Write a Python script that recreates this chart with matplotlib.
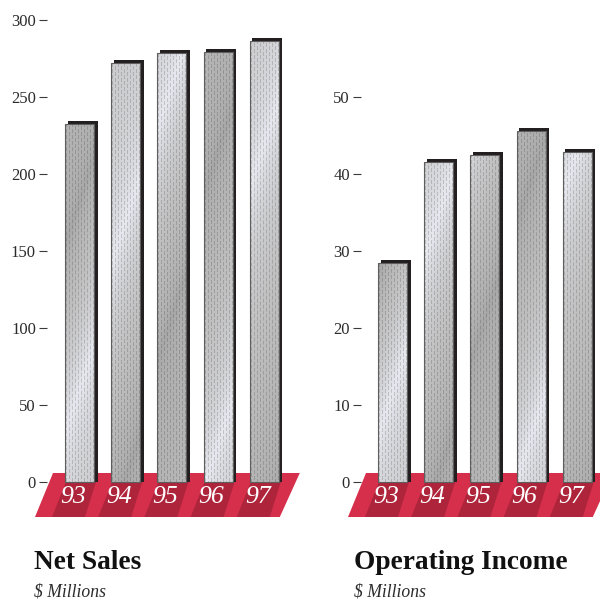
import numpy as np
import matplotlib
matplotlib.use('Agg')
import matplotlib.pyplot as plt

plt.rcParams['font.family'] = ['Liberation Serif', 'DejaVu Serif']

years = ['93', '94', '95', '96', '97']
net_sales = [232.5, 272, 278.5, 279, 286.5]
operating_income = [28.4, 41.5, 42.5, 45.6, 42.9]
sales_ticks = [0, 50, 100, 150, 200, 250, 300]
income_ticks = [0, 10, 20, 30, 40, 50]

W = 600.0
H = 602.0
BASE = 482.0    # pixel row of the zero line
STEP = 46.2     # pixels between bars
BAR_W = 29.0
OFF = 3.0       # shadow offset
RED = '#d62f4c'
RED_DARK = '#ae243b'
BLACK = '#231f20'

# pixel rows of the light streak and the dark streak on each bar
sheen_left = [(388, 200), (220, 477), (85, 317), (442, 148), (143, 530)]
sheen_right = [(390, 230), (215, 473), (75, 318), (433, 178), (150, 530)]


def bar_texture(top, sheen):
    light, dark = sheen
    h = int(round(BASE - top))
    w = int(BAR_W)
    yy, xx = np.mgrid[0:h, 0:w]
    # streaks climb to the right
    rows = top + yy + (xx - w / 2.0) * 3.0
    knots = sorted([(-400, 204), (light, 204), (dark, 174), (950, 204)])
    tone = np.interp(rows, [k[0] for k in knots], [k[1] for k in knots])
    tone = tone + 30 * np.exp(-np.abs(rows - light) / 60.0)
    tone = tone - 8 * np.exp(-np.abs(rows - dark) / 14.0)
    # small staggered dashes
    phase = (yy + 3 * (xx // 3 % 2)) % 6
    dash = (xx % 3 == 1) & (phase < 4)
    tone = np.where(dash, tone * 0.84, tone)
    blue = (np.clip(tone, 190, 250) - 190) / 60.0
    rgb = np.dstack([tone - 4 * blue, tone - 2 * blue, tone + 10 * blue])
    return np.clip(rgb, 0, 255) / 255.0


def draw_chart(values, ticks, top_px, left_px, first_bar_px, sheen, title, title_x):
    scale = (BASE - top_px[0]) / top_px[1]
    ax = fig.add_axes([left_px / W, (H - 517) / H, 253 / W, (517 - 10) / H])
    ax.patch.set_alpha(0)
    pos = np.arange(len(years))
    vals = np.array(values)
    unit = 1.0 / STEP
    half = BAR_W / 2.0 * unit
    center0 = first_bar_px + BAR_W / 2.0

    # floor
    y_floor = -(517 - BASE) / scale
    y_back = (BASE - 473) / scale
    ax.fill([pos[0] - half - 30 * unit, pos[-1] + half + 1 * unit, pos[-1] + half + 21 * unit, pos[0] - half - 12 * unit],
            [y_floor, y_floor, y_back, y_back], color=RED, lw=0, clip_on=False, zorder=1)
    for p in pos:
        ax.fill([p - half - 13 * unit, p - half + 20 * unit, p - half + 31 * unit, p - half + 1 * unit],
                [y_floor, y_floor, 0, 0], color=RED_DARK, lw=0, clip_on=False, zorder=1.5)

    # shadow and face
    ax.bar(pos + OFF * unit, vals + OFF / scale, width=(BAR_W + 1) * unit, color=BLACK, lw=0, zorder=2)
    faces = ax.bar(pos, vals, width=BAR_W * unit, facecolor='none', edgecolor='#5e5e5e', lw=0.8, zorder=4)
    for p, v, s, face in zip(pos, vals, sheen, faces):
        im = ax.imshow(bar_texture(BASE - v * scale, s), extent=[p - half, p + half, 0, v],
                       aspect='auto', interpolation='bilinear', zorder=3)
        im.set_clip_path(face)

    for p, year in zip(pos, years):
        ax.text(p - half + 8 * unit, -(497 - BASE) / scale, year, color='white', style='italic', fontsize=18.5,
                ha='center', va='center', zorder=5, clip_on=False)

    ax.set_xlim((left_px - center0) * unit, (left_px + 253 - center0) * unit)
    ax.set_ylim(y_floor, (BASE - 10) / scale)
    ax.set_xticks([])
    ax.set_yticks(ticks)
    ax.tick_params(axis='y', length=5.5, width=0.8, pad=2.5, labelsize=12, color='#3a3a3a', labelcolor='#2b2b2b')
    for sp in ax.spines.values():
        sp.set_visible(False)

    fig.text(title_x / W, (H - 569) / H, title, fontsize=19.7, fontweight='bold', color='#111111', ha='left', va='baseline')
    fig.text(title_x / W, (H - 597) / H, '$ Millions', fontsize=12.7, style='italic', color='#2b2b2b', ha='left', va='baseline')


fig = plt.figure(figsize=(W / 100, H / 100), dpi=100, facecolor='white')
draw_chart(net_sales, sales_ticks, (20.0, 300.0), 47.0, 65.0, sheen_left, 'Net Sales', 34)
draw_chart(operating_income, income_ticks, (97.0, 50.0), 361.0, 378.0, sheen_right, 'Operating Income', 354)
fig.savefig('out.png', dpi=100)
